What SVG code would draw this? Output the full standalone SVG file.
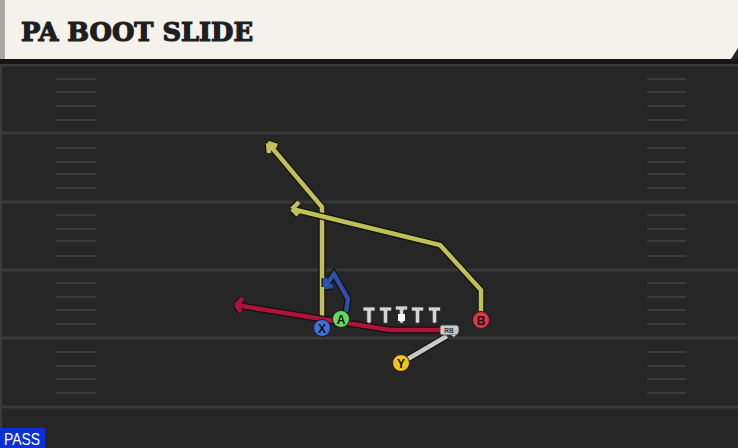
<svg xmlns="http://www.w3.org/2000/svg" width="738" height="448" viewBox="0 0 738 448">
<defs>
<style>
.yl{stroke:#383838;stroke-width:3}
.hs{stroke:#3a3a3a;stroke-width:2}
.out{fill:none;stroke:#111;stroke-width:7;stroke-linejoin:miter;stroke-linecap:butt}
.rt{fill:none;stroke-width:4.5;stroke-linejoin:miter;stroke-linecap:butt}
.yel{stroke:#c0c058}
.red{stroke:#b0123c}
.blu{stroke:#2b50a6}
.gry{stroke:#c8c8c8}
.pl{stroke:#1a1a1a;stroke-width:1}
.lt{font-family:"Liberation Sans",Arial,sans-serif;font-size:12px;font-weight:bold;fill:#111;text-anchor:middle}
.ol{fill:#d6d6d6;stroke:#333;stroke-width:0.8}
</style>
</defs>
<rect x="0" y="0" width="738" height="448" fill="#262626"/>
<rect x="0" y="60" width="2" height="388" fill="#3c3c3c"/>
<g id="field">
<line class="yl" x1="0" y1="65" x2="738" y2="65"/>
<line class="yl" x1="0" y1="133" x2="738" y2="133"/>
<line class="yl" x1="0" y1="202" x2="738" y2="202"/>
<line class="yl" x1="0" y1="270" x2="738" y2="270"/>
<line class="yl" x1="0" y1="338" x2="738" y2="338"/>
<line class="yl" x1="0" y1="407" x2="738" y2="407"/>
<g id="hashes">
<path class="hs" d="M56 79H96M56 92H96M56 106H96M56 120H96M56 148H96M56 162H96M56 174H96M56 188H96M56 215H96M56 229H96M56 241H96M56 256H96M56 283H96M56 297H96M56 310H96M56 324H96M56 352H96M56 366H96M56 379H96M56 393H96"/>
<path class="hs" d="M647 79H686M647 92H686M647 106H686M647 120H686M647 148H686M647 162H686M647 174H686M647 188H686M647 215H686M647 229H686M647 241H686M647 256H686M647 283H686M647 297H686M647 310H686M647 324H686M647 352H686M647 366H686M647 379H686M647 393H686"/>
</g>
</g>
<g id="header">
<rect x="0" y="59" width="738" height="5" fill="#161616"/>
<rect x="5" y="0" width="733" height="59" fill="#f5f2ec"/>
<rect x="0" y="0" width="5" height="59" fill="#a8a8a2"/>
<polygon points="738,48 738,59 731,59" fill="#262626"/>
<text x="21" y="41" font-family="'DejaVu Serif',serif" font-weight="bold" font-size="26" fill="#1e1e1e" stroke="#1e1e1e" stroke-width="1.2" textLength="232" lengthAdjust="spacingAndGlyphs">PA BOOT SLIDE</text>
</g>
<g id="connectors">
<g id="route-x">
<path class="out" d="M322 328V207L268 143M268 143l1 10M268 143l9 3"/>
<path class="rt yel" d="M322 328V207L268 143M268 143l1 10M268 143l9 3"/>
</g>
<g id="route-b">
<path class="out" d="M481 320V290L440 245L292 209M292 209l7 -7M292 209l6 6"/>
<path class="rt yel" d="M481 320V290L440 245L292 209M292 209l7 -7M292 209l6 6"/>
</g>
<g id="route-rb">
<path class="out" d="M445 330H390L236 305M236 305l7 -7M236 305l5 7"/>
<path class="rt red" d="M445 330H390L236 305M236 305l7 -7M236 305l5 7"/>
</g>
<g id="route-a">
<path class="out" d="M346 312L348 299L334 274L325 287M325 287l0 -9M325 287l8 -1"/>
<path class="rt blu" d="M346 312L348 299L334 274L325 287M325 287l0 -9M325 287l8 -1"/>
</g>
<g id="route-y">
<path class="out" d="M401 363L447 336"/>
<path class="rt gry" d="M401 363L447 336"/>
</g>
</g>
<g id="line">
<g id="lt"><path class="ol" d="M363 307h12v4h-3.8v11a2.6 2.6 0 0 1 -4.4 0v-11h-3.8z"/></g>
<g id="lg"><path class="ol" d="M379.5 307h12v4h-3.8v11a2.6 2.6 0 0 1 -4.4 0v-11h-3.8z"/></g>
<g id="c"><path class="ol" d="M395.5 306h12v4h-3.8v12a2.6 2.6 0 0 1 -4.4 0v-12h-3.8z"/><rect x="398" y="314" width="7" height="7" fill="#fff"/></g>
<g id="rg"><path class="ol" d="M411.5 307h12v4h-3.8v11a2.6 2.6 0 0 1 -4.4 0v-11h-3.8z"/></g>
<g id="rt"><path class="ol" d="M428.5 307h12v4h-3.8v11a2.6 2.6 0 0 1 -4.4 0v-11h-3.8z"/></g>
</g>
<g id="rb">
<path d="M442 325h14a3 3 0 0 1 3 3v4l-2 3h-15a2 2 0 0 1 -2 -2v-6a2 2 0 0 1 2 -2z" fill="#c8c8c8" stroke="#333" stroke-width="0.8"/>
<path d="M451 335l3 2l2 -2z" fill="#c8c8c8"/>
<text x="449" y="332.5" font-family="'Liberation Sans',Arial,sans-serif" font-size="6.5" font-weight="bold" fill="#333" text-anchor="middle">RB</text>
</g>
<g id="x"><circle class="pl" cx="322" cy="328" r="8.5" fill="#3d70dc"/><text class="lt" x="322" y="332.5">X</text></g>
<g id="a"><circle class="pl" cx="341" cy="319" r="8.5" fill="#62d95a"/><text class="lt" x="341" y="323.5">A</text></g>
<g id="b"><circle class="pl" cx="481" cy="320" r="8.5" fill="#e2334a"/><text class="lt" x="481" y="324.5">B</text></g>
<g id="y"><circle class="pl" cx="401" cy="363" r="8.5" fill="#efc21e"/><text class="lt" x="401" y="367.5">Y</text></g>
<g id="pass">
<rect x="0" y="428" width="45" height="20" fill="#0c30d4"/>
<text x="4" y="445" font-family="'Liberation Sans',Arial,sans-serif" font-size="16" fill="#fff" textLength="36" lengthAdjust="spacingAndGlyphs">PASS</text>
</g>
</svg>
